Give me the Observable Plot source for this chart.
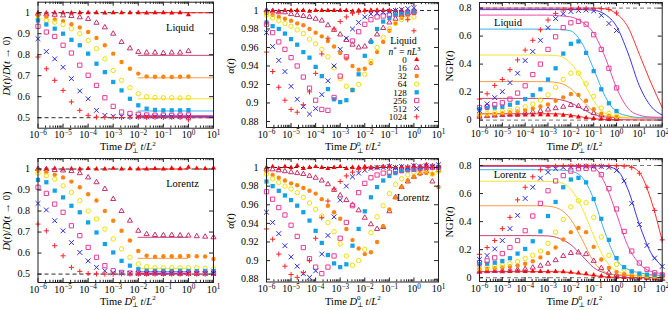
<!DOCTYPE html>
<html><head><meta charset="utf-8">
<script src="https://cdn.jsdelivr.net/npm/d3@7"></script>
<script src="https://cdn.jsdelivr.net/npm/@observablehq/plot@0.6"></script>
<style>
body{margin:0;background:#fff;}
#fig{position:relative;width:668px;height:310px;overflow:hidden;font-family:"Liberation Serif",serif;}
#fig svg{position:absolute;overflow:visible;}
</style></head><body><div id="fig"></div>
<script>
// ---------- series definitions ----------
const SERIES = ["0","16","32","64","128","256","512","1024"];
const COLORS = ["#ff0000","#c4306a","#ff8410","#f2e000","#16a2e6","#e83c96","#2a2aee","#ff2424"];
const LINE_COLORS = ["#ff2020","#c8407a","#ff9a40","#f5e430","#38b0ee","#f048a8","#3434f4","#ff3030"];
const SYMBOLS = ["triangle","triangle","circle","circle","square","square","times","plus"];
const FILLED = [true,false,true,false,true,false,false,false];
const SYM_R = [1.9,1.9,2.2,2.2,2.4,2.4,2.3,1.8];

// ---------- ticks ----------
const X_TICKS_1 = [1e-6,1e-5,1e-4,1e-3,1e-2,1e-1,1,10];
const X_TICKS_2 = [1e-6,1e-5,1e-4,1e-3,1e-2,1e-1,1,10,100];
const Y_TICKS_D = [0.5,0.6,0.7,0.8,0.9,1];
const Y_TICKS_A = [0.88,0.9,0.92,0.94,0.96,0.98,1];
const Y_TICKS_N = [0,0.2,0.4,0.6,0.8];

// ---------- time grids (log10 of time) ----------
const EXP_T0 = [-6,-5.667,-5.333,-5,-4.667,-4.333,-4,-3.667,-3.333,-3,-2.667,-2.333,-2,-1.667,-1.333,-1,-0.667,-0.333,0];
const EXP_T1 = [-6,-5.667,-5.333,-5,-4.667,-4.333,-4,-3.667,-3.333,-3,-2.667,-2.333,-2,-1.667,-1.333,-1,-0.667,-0.333,0,0.333,0.667,1];
const EXP_T2 = [-6,-5.667,-5.333,-5,-4.667,-4.333,-4,-3.667,-3.333,-3,-2.667,-2.333,-2,-1.667,-1.333,-1,-0.667,-0.333,0,0.333,0.667,1,1.333,1.667,2];
const EXP_Q0 = [-6,-5.75,-5.5,-5.25,-5,-4.75,-4.5,-4.25,-4,-3.75,-3.5,-3.25,-3,-2.75,-2.5,-2.25,-2,-1.75,-1.5,-1.25,-1,-0.75,-0.5,-0.25,0];
const EXP_Q1 = [-6,-5.75,-5.5,-5.25,-5,-4.75,-4.5,-4.25,-4,-3.75,-3.5,-3.25,-3,-2.75,-2.5,-2.25,-2,-1.75,-1.5,-1.25,-1,-0.75,-0.5,-0.25,0,0.25,0.5,0.75,1];
const EXP_FIT = [-6,-5.5,-5,-4.5,-4,-3.5,-3,-2.5,-2,-1.5,-1,-0.5,0,0.5,1,1.5,2];

// ---------- D(t)/D(t->0), Liquid ----------
const D_LIQ_0    = [1.000,0.999,1.000,1.000,0.999,1.000,1.000,1.000,0.999,1.000,1.000,1.000,1.000,0.999,1.000,1.000,0.999,1.000,0.990];
const D_LIQ_16   = [0.995,0.992,0.990,0.987,0.984,0.978,0.970,0.952,0.930,0.900,0.860,0.830,0.813,0.810,0.810,0.808,0.810,0.810,0.817];
const D_LIQ_32   = [0.985,0.980,0.968,0.960,0.945,0.930,0.908,0.880,0.845,0.805,0.765,0.733,0.710,0.697,0.695,0.695,0.694,0.695,0.696];
const D_LIQ_64   = [0.970,0.963,0.955,0.944,0.924,0.900,0.868,0.829,0.780,0.725,0.678,0.643,0.614,0.600,0.596,0.595,0.595,0.594,0.596];
const D_LIQ_128  = [0.963,0.944,0.924,0.900,0.871,0.845,0.805,0.757,0.717,0.670,0.630,0.590,0.559,0.543,0.537,0.535,0.535,0.535,0.536];
const D_LIQ_256  = [0.935,0.908,0.887,0.845,0.808,0.750,0.702,0.654,0.595,0.554,0.527,0.520,0.516,0.513,0.512,0.512,0.511,0.512,0.513];
const D_LIQ_512  = [0.876,0.815,0.780,0.740,0.686,0.627,0.590,0.535,0.511,0.506,0.505,0.505,0.505,0.504,0.505,0.505,0.504,0.505,0.505];
const D_LIQ_1024 = [0.789,0.733,0.678,0.630,0.575,0.535,0.511,0.503,0.502,0.502,0.501,0.502,0.502,0.501,0.502,0.501,0.502,0.501,0.490];
const D_LIQ_FIT  = [1.000,0.797,0.690,0.590,0.532,0.510,0.505,0.500];
const D_LIQ_FIT_SPAN = [1e-2, 10];

// ---------- D(t)/D(t->0), Lorentz ----------
const D_LOR_0    = [1.002,1.000,1.003,1.000,1.001,1.000,1.002,1.000,1.000,1.003,1.000,1.001,1.000,1.000,1.002,1.000,1.004,1.001,1.008,1.003,1.002,1.005];
const D_LOR_16   = [1.000,0.999,0.995,0.993,0.990,0.980,0.960,0.937,0.905,0.857,0.800,0.754,0.706,0.690,0.686,0.685,0.686,0.684,0.683,0.680,0.678,0.675];
const D_LOR_32   = [0.992,0.985,0.973,0.960,0.940,0.913,0.880,0.850,0.800,0.754,0.706,0.660,0.610,0.587,0.583,0.585,0.585,0.585,0.586,0.585,0.584,0.572];
const D_LOR_64   = [0.980,0.968,0.952,0.920,0.889,0.850,0.800,0.762,0.714,0.667,0.620,0.580,0.548,0.535,0.530,0.530,0.530,0.530,0.530,0.530,0.528,0.525];
const D_LOR_128  = [0.948,0.937,0.897,0.865,0.825,0.794,0.746,0.698,0.643,0.603,0.563,0.540,0.524,0.516,0.515,0.515,0.514,0.515,0.515,0.514,0.515,0.514];
const D_LOR_256  = [0.913,0.884,0.833,0.794,0.730,0.683,0.627,0.580,0.540,0.516,0.508,0.505,0.505,0.504,0.505,0.504,0.505,0.504,0.505,0.504,0.505,0.504];
const D_LOR_512  = [0.836,0.805,0.754,0.706,0.650,0.603,0.563,0.532,0.516,0.506,0.505,0.504,0.503,0.503,0.504,0.503,0.503,0.503,0.503,0.503,0.503,0.503];
const D_LOR_1024 = [0.738,0.706,0.635,0.587,0.532,0.513,0.503,0.501,0.500,0.500,0.501,0.500,0.500,0.500,0.500,0.500,0.500,0.500,0.500,0.500,0.500,0.500];
const D_LOR_FIT  = [1.000,0.675,0.575,0.527,0.512,0.505,0.502,0.500];
const D_LOR_FIT_SPAN = [1e-2, 1];

// ---------- alpha(t), Liquid ----------
const A_LIQ_0    = [1.000,1.000,0.999,1.000,1.000,1.000,1.000,0.999,1.000,1.000,1.000,1.000,1.000,1.000,0.999,1.000,1.000,1.000,1.000,1.000,1.000,1.000,1.000,0.999,0.999];
const A_LIQ_16   = [1.000,0.999,0.998,0.998,0.996,0.995,0.994,0.993,0.991,0.989,0.984,0.979,0.974,0.968,0.963,0.960,0.961,0.967,0.974,0.981,0.987,0.991,0.995,0.997,0.999];
const A_LIQ_32   = [0.997,0.995,0.993,0.991,0.989,0.986,0.984,0.980,0.976,0.972,0.967,0.961,0.954,0.948,0.940,0.936,0.937,0.943,0.955,0.966,0.978,0.986,0.992,0.995,0.997];
const A_LIQ_64   = [0.995,0.992,0.989,0.986,0.983,0.979,0.975,0.969,0.964,0.958,0.950,0.938,0.926,0.918,0.914,0.920,0.931,0.945,0.960,0.971,0.980,0.986,0.990,0.993,0.993];
const A_LIQ_128  = [0.987,0.983,0.980,0.975,0.969,0.963,0.955,0.949,0.939,0.929,0.915,0.904,0.901,0.903,0.914,0.931,0.951,0.966,0.980,0.988,0.992,0.995,0.997,0.998,0.999];
const A_LIQ_256  = [0.985,0.976,0.966,0.958,0.949,0.940,0.928,0.916,0.903,0.893,0.892,0.906,0.929,0.950,0.967,0.977,0.985,0.990,0.993,0.994,0.995,0.996,0.997,0.997,0.998];
const A_LIQ_512  = [0.976,0.961,0.946,0.934,0.918,0.904,0.896,0.888,0.894,0.909,0.924,0.940,0.958,0.970,0.980,0.987,0.993,0.996,0.997,0.998,0.999,1.000,1.001,1.002,1.003];
const A_LIQ_1024 = [0.955,0.934,0.917,0.903,0.893,0.890,0.898,0.912,0.932,0.953,0.970,0.980,0.988,0.993,0.997,0.998,0.999,1.000,1.000,1.000,1.000,1.000,0.999,0.990,0.978];

// ---------- alpha(t), Lorentz ----------
const A_LOR_0    = [1.000,1.001,0.999,1.001,1.000,1.002,0.999,1.000,1.001,1.000,0.999,1.000,1.001,0.999,1.000,1.000,1.001,1.000,1.000,1.001,1.002,1.000,1.001,1.000,1.002,1.001,1.003,1.002,1.001];
const A_LOR_16   = [0.998,0.998,0.997,0.996,0.995,0.994,0.993,0.991,0.989,0.986,0.982,0.976,0.970,0.965,0.960,0.954,0.946,0.939,0.934,0.936,0.953,0.968,0.979,0.985,0.990,0.994,0.996,0.985,0.997];
const A_LOR_32   = [0.996,0.992,0.989,0.986,0.983,0.981,0.978,0.975,0.972,0.966,0.959,0.952,0.945,0.934,0.922,0.913,0.907,0.909,0.920,0.937,0.955,0.968,0.979,0.986,0.990,0.993,0.994,0.993,0.979];
const A_LOR_64   = [0.993,0.988,0.984,0.980,0.977,0.973,0.968,0.962,0.955,0.948,0.941,0.931,0.918,0.905,0.895,0.900,0.912,0.930,0.947,0.959,0.972,0.982,0.988,0.992,0.995,0.996,0.997,0.993,0.996];
const A_LOR_128  = [0.985,0.980,0.975,0.970,0.965,0.959,0.952,0.943,0.932,0.919,0.906,0.897,0.893,0.896,0.916,0.934,0.953,0.968,0.979,0.986,0.991,0.994,0.996,0.997,0.998,0.999,1.000,1.001,1.000];
const A_LOR_256  = [0.974,0.966,0.957,0.949,0.938,0.926,0.914,0.902,0.893,0.886,0.893,0.905,0.924,0.941,0.959,0.973,0.983,0.989,0.992,0.994,0.995,0.996,0.997,0.998,0.998,0.999,1.000,1.000,1.000];
const A_LOR_512  = [0.952,0.941,0.929,0.916,0.904,0.894,0.886,0.882,0.889,0.907,0.927,0.947,0.965,0.980,0.990,0.994,0.997,0.999,1.000,1.000,1.001,1.000,1.001,1.000,1.002,1.001,1.002,1.001,1.003];
const A_LOR_1024 = [0.934,0.923,0.907,0.894,0.885,0.882,0.887,0.900,0.924,0.946,0.964,0.977,0.985,0.991,0.995,0.998,0.999,1.000,1.000,1.001,1.000,1.000,1.000,1.001,1.000,1.001,1.000,1.000,1.000];

// ---------- NGP(t), Liquid ----------
const N_LIQ_0    = [0.030,0.032,0.035,0.033,0.036,0.035,0.037,0.036,0.038,0.037,0.036,0.035,0.030,0.022,0.016,0.011,0.007,0.005,0.004];
const N_LIQ_16   = [0.024,0.028,0.032,0.036,0.040,0.044,0.050,0.058,0.065,0.075,0.085,0.095,0.108,0.100,0.080,0.050,0.033,0.020,0.015];
const N_LIQ_32   = [0.031,0.036,0.042,0.048,0.055,0.062,0.072,0.083,0.098,0.112,0.138,0.162,0.186,0.180,0.138,0.078,0.045,0.032,0.022];
const N_LIQ_64   = [0.043,0.048,0.055,0.062,0.070,0.079,0.095,0.115,0.143,0.180,0.235,0.290,0.335,0.335,0.260,0.170,0.085,0.047,0.030];
const N_LIQ_128  = [0.079,0.086,0.090,0.095,0.110,0.124,0.150,0.178,0.220,0.290,0.370,0.475,0.545,0.562,0.480,0.350,0.220,0.120,0.065];
const N_LIQ_256  = [0.090,0.095,0.110,0.124,0.150,0.193,0.245,0.325,0.400,0.505,0.595,0.660,0.695,0.705,0.685,0.610,0.505,0.370,0.230];
const N_LIQ_512  = [0.067,0.116,0.160,0.203,0.268,0.335,0.425,0.490,0.570,0.660,0.725,0.760,0.776,0.783,0.786,0.780,0.748,0.690,0.640];
const N_LIQ_1024 = [0.150,0.188,0.248,0.290,0.360,0.430,0.500,0.570,0.645,0.715,0.762,0.787,0.795,0.798,0.797,0.796,0.795,0.790,0.765];
const F_LIQ_0    = [0.045,0.045,0.045,0.045,0.045,0.045,0.045,0.044,0.035,0.022,0.010,0.005,0.003,0.002,0.001,0.001,0.001];
const F_LIQ_16   = [0.155,0.155,0.155,0.155,0.155,0.155,0.154,0.147,0.123,0.080,0.040,0.022,0.018,0.017,0.016,0.016,0.016];
const F_LIQ_32   = [0.275,0.275,0.275,0.275,0.275,0.275,0.274,0.265,0.225,0.140,0.062,0.030,0.020,0.018,0.017,0.017,0.017];
const F_LIQ_64   = [0.465,0.465,0.465,0.465,0.465,0.465,0.464,0.458,0.405,0.290,0.138,0.050,0.025,0.020,0.018,0.018,0.018];
const F_LIQ_128  = [0.650,0.650,0.650,0.650,0.650,0.650,0.650,0.648,0.637,0.545,0.365,0.170,0.060,0.030,0.018,0.015,0.014];
const F_LIQ_256  = [0.750,0.750,0.750,0.750,0.750,0.750,0.750,0.745,0.737,0.700,0.620,0.450,0.230,0.085,0.035,0.022,0.020];
const F_LIQ_512  = [0.789,0.789,0.789,0.789,0.789,0.789,0.789,0.789,0.789,0.789,0.785,0.755,0.670,0.480,0.245,0.100,0.036];
const F_LIQ_1024 = [0.800,0.800,0.800,0.800,0.800,0.800,0.800,0.800,0.800,0.800,0.800,0.795,0.760,0.665,0.470,0.270,0.090];

// ---------- NGP(t), Lorentz ----------
const N_LOR_0    = [0.043,0.044,0.045,0.043,0.045,0.046,0.044,0.046,0.045,0.043,0.044,0.042,0.038,0.034,0.028,0.020,0.012,0.007,0.004,0.002,0.000,-0.002,-0.004,-0.006,-0.010];
const N_LOR_16   = [0.043,0.046,0.048,0.050,0.053,0.057,0.062,0.072,0.085,0.100,0.125,0.155,0.176,0.180,0.168,0.120,0.068,0.035,0.020,0.010,0.005,0.003,0.000,-0.005,-0.010];
const N_LOR_32   = [0.060,0.064,0.068,0.074,0.080,0.087,0.100,0.117,0.145,0.175,0.215,0.272,0.325,0.355,0.325,0.220,0.130,0.070,0.040,0.025,0.015,0.010,0.006,0.003,0.000];
const N_LOR_64   = [0.072,0.076,0.084,0.090,0.100,0.115,0.138,0.160,0.190,0.245,0.325,0.415,0.505,0.549,0.535,0.430,0.290,0.160,0.095,0.060,0.040,0.025,0.018,0.015,0.010];
const N_LOR_128  = [0.096,0.100,0.107,0.119,0.139,0.172,0.205,0.260,0.330,0.440,0.540,0.645,0.700,0.712,0.680,0.561,0.420,0.270,0.140,0.075,0.045,0.030,0.022,0.018,0.015];
const N_LOR_256  = [0.107,0.120,0.142,0.172,0.215,0.265,0.335,0.440,0.530,0.620,0.690,0.728,0.760,0.777,0.780,0.776,0.735,0.635,0.490,0.330,0.190,0.105,0.060,0.035,0.020];
const N_LOR_512  = [0.131,0.158,0.205,0.265,0.350,0.445,0.565,0.645,0.710,0.752,0.777,0.787,0.792,0.795,0.795,0.795,0.793,0.787,0.765,0.690,0.530,0.380,0.230,0.140,0.080];
const N_LOR_1024 = [0.167,0.215,0.265,0.350,0.430,0.555,0.645,0.720,0.770,0.787,0.795,0.797,0.798,0.798,0.797,0.797,0.796,0.797,0.796,0.795,0.785,0.745,0.645,0.480,0.270];
const F_LOR_0    = [0.043,0.043,0.043,0.043,0.043,0.043,0.043,0.042,0.037,0.025,0.015,0.006,0.002,0.001,0.000,0.000,0.000];
const F_LOR_16   = [0.300,0.300,0.300,0.300,0.300,0.300,0.298,0.280,0.235,0.155,0.072,0.033,0.020,0.016,0.015,0.015,0.015];
const F_LOR_32   = [0.513,0.513,0.513,0.513,0.513,0.513,0.510,0.490,0.415,0.270,0.115,0.040,0.020,0.015,0.015,0.015,0.015];
const F_LOR_64   = [0.688,0.688,0.688,0.688,0.688,0.688,0.687,0.680,0.630,0.495,0.300,0.130,0.050,0.025,0.016,0.015,0.015];
const F_LOR_128  = [0.770,0.770,0.770,0.770,0.770,0.770,0.770,0.768,0.760,0.715,0.561,0.320,0.130,0.060,0.035,0.022,0.016];
const F_LOR_256  = [0.795,0.795,0.795,0.795,0.795,0.795,0.795,0.795,0.795,0.793,0.785,0.670,0.455,0.225,0.100,0.045,0.030];
const F_LOR_512  = [0.797,0.797,0.797,0.797,0.797,0.797,0.797,0.797,0.797,0.797,0.797,0.795,0.770,0.630,0.380,0.180,0.084];
const F_LOR_1024 = [0.800,0.800,0.800,0.800,0.800,0.800,0.800,0.800,0.800,0.800,0.800,0.800,0.800,0.797,0.750,0.560,0.263];

// ---------- helpers ----------
const FONT = "'Liberation Serif', 'DejaVu Serif', serif";
const rows = (exps, vals) => exps.map((e, i) => ({t: Math.pow(10, e), v: vals[i]})).filter(d => d.v != null);
const fmtY = d => String(Math.round(d * 100) / 100);
const fmtX = d => "10^" + Math.round(Math.log10(d));
function minorTicks(dom) {
  const out = [];
  for (let e = Math.round(Math.log10(dom[0])); e < Math.round(Math.log10(dom[1])); e++)
    for (let k = 2; k <= 9; k++) out.push(k * Math.pow(10, e));
  return out;
}
const FIG = document.getElementById("fig");

function panel(c) {
  const iw = c.width - c.ml - c.mr, ih = c.height - c.mt - c.mb;
  const marks = [];
  marks.push(Plot.ruleY(c.refs, {y: d => d, stroke: c.refColor, strokeDasharray: "4,3", strokeWidth: 0.9}));
  if (c.plateaus) c.plateaus.forEach((v, i) => marks.push(
    Plot.ruleY([v], {y: d => d, x1: () => c.span[0], x2: () => c.span[1], stroke: LINE_COLORS[i], strokeWidth: 1})));
  if (c.fits) c.fits.forEach((vals, i) => marks.push(
    Plot.line(rows(EXP_FIT, vals), {x: "t", y: "v", stroke: LINE_COLORS[i], strokeWidth: 1, curve: "monotone-x"})));
  c.series.forEach((vals, i) => marks.push(
    Plot.dot(rows(c.exps, vals), {x: "t", y: "v", symbol: SYMBOLS[i], r: SYM_R[i],
      fill: FILLED[i] ? COLORS[i] : "none", stroke: FILLED[i] ? "none" : COLORS[i], strokeWidth: 1})));
  const minors = minorTicks(c.xdom);
  marks.push(
    Plot.tickX(c.xticks, {x: d => d, insetTop: ih - 4, stroke: "#222"}),
    Plot.tickX(c.xticks, {x: d => d, insetBottom: ih - 4, stroke: "#222"}),
    Plot.tickX(minors, {x: d => d, insetTop: ih - 2.2, stroke: "#222"}),
    Plot.tickX(minors, {x: d => d, insetBottom: ih - 2.2, stroke: "#222"}),
    Plot.tickY(c.yticks, {y: d => d, insetRight: iw - 4, stroke: "#222"}),
    Plot.tickY(c.yticks, {y: d => d, insetLeft: iw - 4, stroke: "#222"}),
    Plot.frame({stroke: "#222", strokeWidth: 1}),
    Plot.axisX({ticks: c.xticks, tickSize: 0, tickPadding: 3, tickFormat: fmtX, label: null}),
    Plot.axisY({ticks: c.yticks, tickSize: 0, tickPadding: 8, tickFormat: fmtY, label: null})
  );
  const svg = Plot.plot({
    width: c.width, height: c.height,
    marginLeft: c.ml, marginRight: c.mr, marginTop: c.mt, marginBottom: c.mb,
    x: {type: "log", domain: c.xdom},
    y: {domain: c.ydom},
    style: {background: "transparent", fontFamily: FONT, fontSize: "10px", overflow: "visible", color: "#000"},
    marks
  });
  svg.style.left = c.left + "px";
  svg.style.top = c.top + "px";
  // superscript exponents on the x tick labels
  d3.select(svg).selectAll('g[aria-label="x-axis tick label"] text').each(function() {
    const s = this.textContent;
    if (!s.startsWith("10^")) return;
    const ex = s.slice(3).replace("-", "\u2212");
    const t = d3.select(this);
    t.text("10");
    t.append("tspan").attr("dy", "-0.45em").attr("font-size", "7.2px").text(ex);
  });
  FIG.appendChild(svg);
}

// ---------- panels ----------
panel({left: 0, top: 0, width: 222, height: 156, ml: 37.5, mr: 9, mt: 1.7, mb: 28.3,
  xdom: [1e-6, 10], xticks: X_TICKS_1, ydom: [0.45, 1.05], yticks: Y_TICKS_D,
  exps: EXP_T0, series: [D_LIQ_0, D_LIQ_16, D_LIQ_32, D_LIQ_64, D_LIQ_128, D_LIQ_256, D_LIQ_512, D_LIQ_1024],
  plateaus: D_LIQ_FIT, span: D_LIQ_FIT_SPAN, refs: [1, 0.5], refColor: "#111"});
panel({left: 222, top: 0, width: 222, height: 156, ml: 44, mr: 6, mt: 2, mb: 29,
  xdom: [1e-6, 10], xticks: X_TICKS_1, ydom: [0.8735, 1.0086], yticks: Y_TICKS_A,
  exps: EXP_Q0, series: [A_LIQ_0, A_LIQ_16, A_LIQ_32, A_LIQ_64, A_LIQ_128, A_LIQ_256, A_LIQ_512, A_LIQ_1024],
  refs: [1], refColor: "#111"});
panel({left: 444, top: 0, width: 224, height: 156, ml: 35, mr: 6.3, mt: 2, mb: 29.4,
  xdom: [1e-6, 100], xticks: X_TICKS_2, ydom: [-0.05, 0.84], yticks: Y_TICKS_N,
  exps: EXP_T0, series: [N_LIQ_0, N_LIQ_16, N_LIQ_32, N_LIQ_64, N_LIQ_128, N_LIQ_256, N_LIQ_512, N_LIQ_1024],
  fits: [F_LIQ_0, F_LIQ_16, F_LIQ_32, F_LIQ_64, F_LIQ_128, F_LIQ_256, F_LIQ_512, F_LIQ_1024],
  refs: [0.8, 0], refColor: "#666"});
panel({left: 0, top: 156, width: 222, height: 154, ml: 37.5, mr: 9, mt: 2, mb: 28,
  xdom: [1e-6, 10], xticks: X_TICKS_1, ydom: [0.46, 1.05], yticks: Y_TICKS_D,
  exps: EXP_T1, series: [D_LOR_0, D_LOR_16, D_LOR_32, D_LOR_64, D_LOR_128, D_LOR_256, D_LOR_512, D_LOR_1024],
  plateaus: D_LOR_FIT, span: D_LOR_FIT_SPAN, refs: [1, 0.5], refColor: "#111"});
panel({left: 222, top: 156, width: 222, height: 154, ml: 44, mr: 6, mt: 2, mb: 28.5,
  xdom: [1e-6, 10], xticks: X_TICKS_1, ydom: [0.877, 1.0097], yticks: Y_TICKS_A,
  exps: EXP_Q1, series: [A_LOR_0, A_LOR_16, A_LOR_32, A_LOR_64, A_LOR_128, A_LOR_256, A_LOR_512, A_LOR_1024],
  refs: [1], refColor: "#111"});
panel({left: 444, top: 156, width: 224, height: 154, ml: 35, mr: 6.3, mt: 2, mb: 29,
  xdom: [1e-6, 100], xticks: X_TICKS_2, ydom: [-0.027, 0.85], yticks: Y_TICKS_N,
  exps: EXP_T2, series: [N_LOR_0, N_LOR_16, N_LOR_32, N_LOR_64, N_LOR_128, N_LOR_256, N_LOR_512, N_LOR_1024],
  fits: [F_LOR_0, F_LOR_16, F_LOR_32, F_LOR_64, F_LOR_128, F_LOR_256, F_LOR_512, F_LOR_1024],
  refs: [0.8, 0], refColor: "#666"});

// ---------- titles, annotations, legend (overlay) ----------
const ov = d3.select(FIG).append("svg").attr("width", 668).attr("height", 310)
  .style("left", "0px").style("top", "0px").style("pointer-events", "none")
  .attr("font-family", FONT).attr("font-size", 10.5).attr("fill", "#000");

function xTitle(x, y) {
  const t = ov.append("text").attr("x", x).attr("y", y);
  t.append("tspan").text("Time ");
  t.append("tspan").attr("font-style", "italic").text("D");
  t.append("tspan").attr("font-size", 7).attr("dy", -4.4).text("0");
  t.append("tspan").attr("font-size", 7).attr("dx", -3.6).attr("dy", 7.2).text("\u22a5");
  t.append("tspan").attr("font-style", "italic").attr("dx", 2).attr("dy", -2.8).text("t");
  t.append("tspan").text("/");
  t.append("tspan").attr("font-style", "italic").text("L");
  t.append("tspan").attr("font-size", 7).attr("dy", -4.2).text("2");
}
[[100, 150], [325, 150], [546.5, 150], [100, 304.5], [325, 304.5], [546.5, 304.5]].forEach(p => xTitle(p[0], p[1]));

function yTitle(x, y, parts) {
  const t = ov.append("text").attr("transform", `translate(${x},${y}) rotate(-90)`)
    .attr("text-anchor", "middle").attr("dy", "0.35em");
  parts.forEach(p => t.append("tspan").attr("font-style", p[1] ? "italic" : null).text(p[0]));
}
const D_TITLE = [["D", 1], ["(", 0], ["t", 1], [")/", 0], ["D", 1], ["(", 0], ["t", 1], [" \u2192 0)", 0]];
const A_TITLE = [["\u03b1", 1], ["(", 0], ["t", 1], [")", 0]];
const N_TITLE = [["NGP(", 0], ["t", 1], [")", 0]];
yTitle(6, 66, D_TITLE); yTitle(230, 66, A_TITLE); yTitle(449, 66, N_TITLE);
yTitle(6, 221, D_TITLE); yTitle(230, 221, A_TITLE); yTitle(449, 222, N_TITLE);

const PANEL_LABELS = [["Liquid", 180, 30.5], ["Liquid", 508, 25.5], ["Lorentz", 182.5, 186.5], ["Lorentz", 413, 200.5], ["Lorentz", 510, 177.5]];
PANEL_LABELS.forEach(l => ov.append("text").attr("x", l[1]).attr("y", l[2]).attr("text-anchor", "middle").text(l[0]));

// legend
ov.append("text").attr("x", 403.5).attr("y", 44).attr("text-anchor", "middle").attr("font-size", 10).text("Liquid");
const ln = ov.append("text").attr("x", 404.5).attr("y", 54.6).attr("text-anchor", "middle").attr("font-size", 9.5);
ln.append("tspan").attr("font-style", "italic").text("n");
ln.append("tspan").attr("font-size", 7).attr("dy", -3.6).text("*");
ln.append("tspan").attr("dy", 3.6).text(" = ");
ln.append("tspan").attr("font-style", "italic").text("nL");
ln.append("tspan").attr("font-size", 7).attr("dy", -3.6).text("3");
const D3SYM = {triangle: d3.symbolTriangle, circle: d3.symbolCircle, square: d3.symbolSquare, times: d3.symbolTimes, plus: d3.symbolPlus};
SERIES.forEach((s, i) => {
  const y = 59.6 + i * 8.18;
  ov.append("text").attr("x", 406.7).attr("y", y + 3.2).attr("text-anchor", "end").attr("font-size", 9).text(s);
  const r = SYM_R[i];
  ov.append("path").attr("transform", `translate(416.7,${y})`)
    .attr("d", d3.symbol(D3SYM[SYMBOLS[i]], Math.PI * r * r)())
    .attr("fill", FILLED[i] ? COLORS[i] : "none")
    .attr("stroke", FILLED[i] ? "none" : COLORS[i]).attr("stroke-width", 1);
});
</script></body></html>
